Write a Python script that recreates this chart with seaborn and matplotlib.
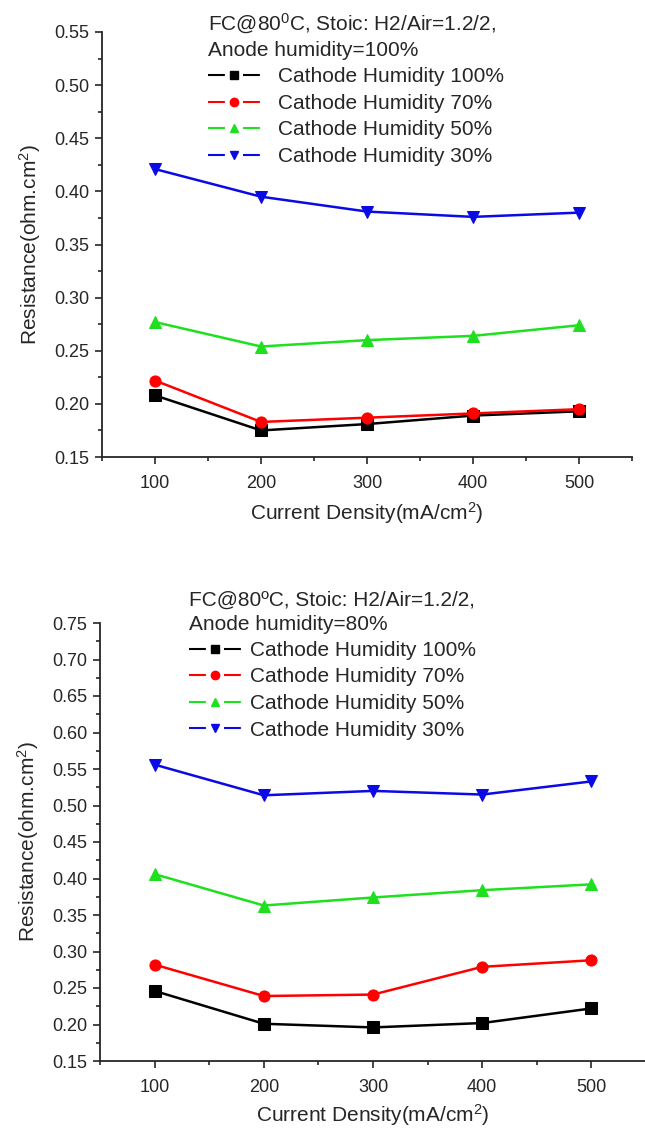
# membrane resistance vs current density, two anode humidities
import numpy as np
import pandas as pd
import matplotlib.pyplot as plt
from matplotlib.lines import Line2D
import seaborn as sns

sns.set_style("ticks")
plt.rcParams['font.family'] = ['Liberation Sans', 'DejaVu Sans']
plt.rcParams['mathtext.fontset'] = 'custom'
plt.rcParams['mathtext.rm'] = 'Liberation Sans'
plt.rcParams['mathtext.it'] = 'Liberation Sans:italic'

current = [100, 200, 300, 400, 500]
series_names = ['Cathode Humidity 100%', 'Cathode Humidity 70%',
                'Cathode Humidity 50%', 'Cathode Humidity 30%']

# anode humidity 100%
anode100_rh100 = [0.208, 0.175, 0.181, 0.189, 0.193]
anode100_rh70 = [0.222, 0.183, 0.187, 0.191, 0.195]
anode100_rh50 = [0.277, 0.254, 0.260, 0.264, 0.274]
anode100_rh30 = [0.421, 0.395, 0.381, 0.376, 0.380]

# anode humidity 80%
anode80_rh100 = [0.246, 0.201, 0.196, 0.202, 0.222]
anode80_rh70 = [0.282, 0.239, 0.241, 0.279, 0.288]
anode80_rh50 = [0.406, 0.363, 0.374, 0.384, 0.392]
anode80_rh30 = [0.556, 0.514, 0.520, 0.515, 0.533]

colors = ['black', '#ff0000', '#1fe01f', '#0a0ae6']
markers = ['s', 'o', '^', 'v']


def long_table(cols):
    rows = []
    for name, vals in zip(series_names, cols):
        for x, v in zip(current, vals):
            rows.append({'current': x, 'res': v, 'series': name})
    return pd.DataFrame(rows)


top_df = long_table([anode100_rh100, anode100_rh70, anode100_rh50, anode100_rh30])
bot_df = long_table([anode80_rh100, anode80_rh70, anode80_rh50, anode80_rh30])

fig = plt.figure(figsize=(6.45, 11.28), dpi=100)
ax1 = fig.add_axes([102 / 645, 1 - 457 / 1128, 530 / 645, 425 / 1128])
ax2 = fig.add_axes([100 / 645, 1 - 1061 / 1128, 546 / 645, 438 / 1128])


def draw(ax, df, ylo, yhi, title, anchor, textpad, xpad):
    for name, c, m in zip(series_names, colors, markers):
        sub = df[df['series'] == name]
        sns.lineplot(data=sub, x='current', y='res', ax=ax, color=c,
                     marker=m, markersize=8, markeredgecolor=c,
                     linewidth=1.8, legend=False)
    ax.set_xlim(50, 550)
    ax.set_ylim(ylo, yhi)
    ax.set_xticks(current)
    ax.set_xticks(np.arange(50, 551, 100), minor=True)
    ax.set_yticks(np.arange(ylo, yhi + 0.001, 0.05))
    ax.set_yticks(np.arange(ylo + 0.025, yhi, 0.05), minor=True)
    ax.yaxis.set_major_formatter(plt.FormatStrFormatter('%.2f'))
    ax.tick_params(which='major', length=5, width=1.2, labelsize=13, direction='out')
    ax.tick_params(which='minor', length=3, width=1.2, direction='out')
    ax.tick_params(axis='x', which='major', pad=8)
    ax.tick_params(axis='y', which='major', pad=4)
    for s in ['top', 'right']:
        ax.spines[s].set_visible(False)
    for s in ['left', 'bottom']:
        ax.spines[s].set_linewidth(1.3)
    ax.set_xlabel('Current Density(mA/cm$^2$)', fontsize=15, labelpad=xpad)
    ax.set_ylabel('Resistance(ohm.cm$^2$)', fontsize=15, labelpad=8)
    # origin-style legend keys: line, gap, marker, gap, line
    handles = [Line2D([], [], color=c, marker=m, markersize=6, lw=1.5,
                      linestyle=(0, (8.1, 8.7)))
               for c, m in zip(colors, markers)]
    leg = ax.legend(handles, series_names, title=title, loc='upper left',
                    bbox_to_anchor=anchor, bbox_transform=fig.transFigure,
                    frameon=False, fontsize=15, title_fontsize=15,
                    alignment='left', handlelength=2.5,
                    handletextpad=textpad, labelspacing=0.36,
                    borderpad=0, borderaxespad=0)
    leg.get_title().set_linespacing(1.3)
    return leg


draw(ax1, top_df, 0.15, 0.55,
     'FC@80$^0$C, Stoic: H2/Air=1.2/2,\nAnode humidity=100%',
     (208 / 645, 1 - 12 / 1128), 0.85, 6)
draw(ax2, bot_df, 0.15, 0.75,
     'FC@80ºC, Stoic: H2/Air=1.2/2,\nAnode humidity=80%',
     (189 / 645, 1 - 591 / 1128), 0.45, 4)

fig.savefig('out.png', dpi=100)
